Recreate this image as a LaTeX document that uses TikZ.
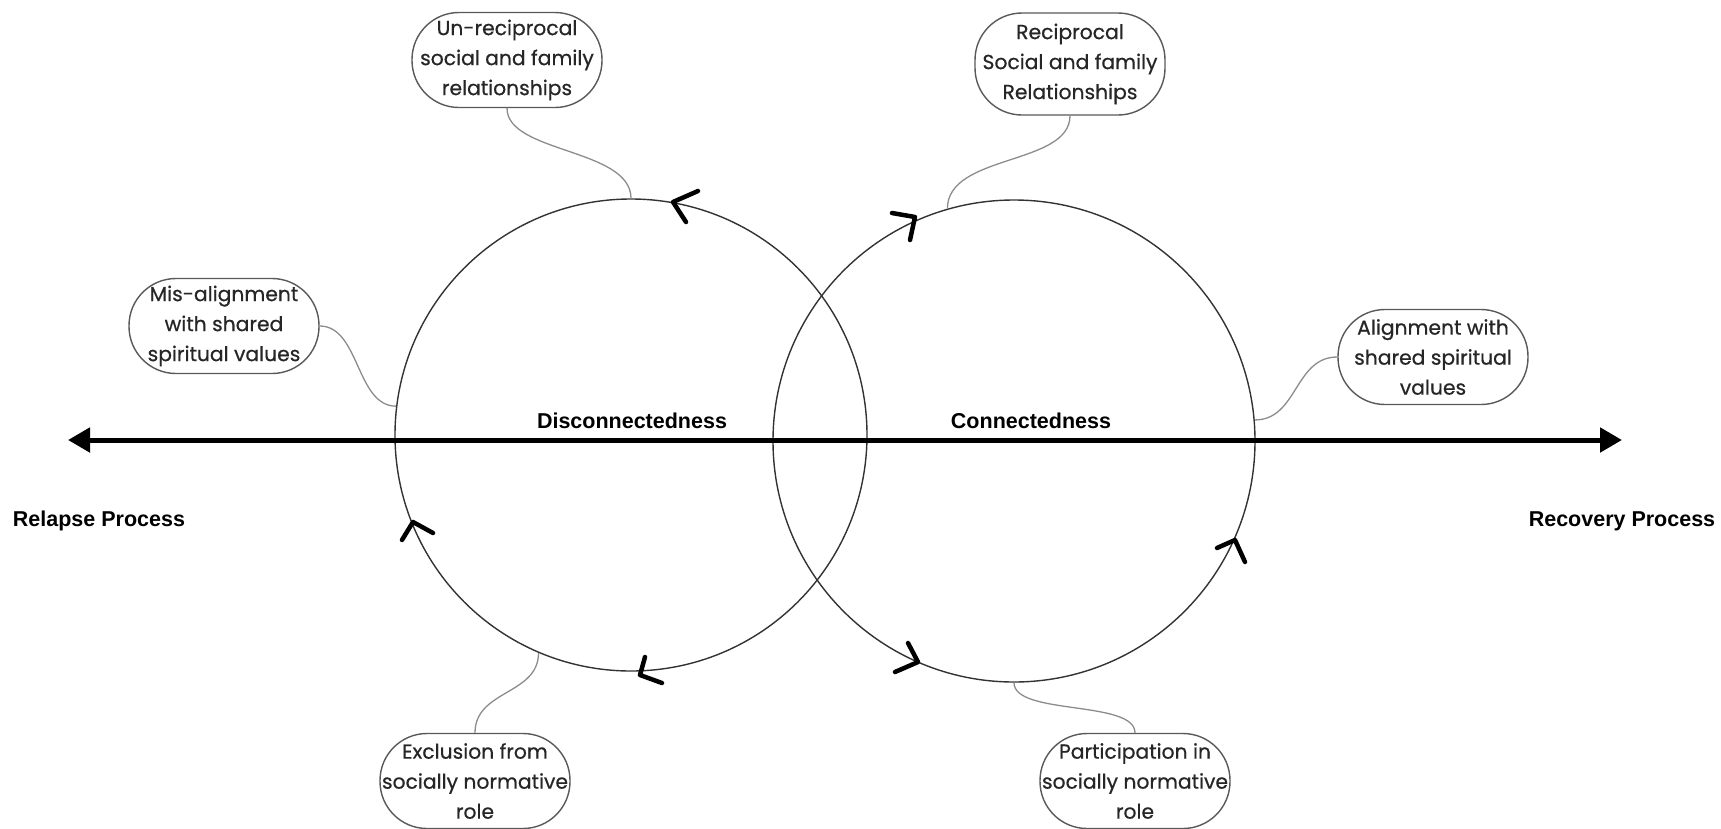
\documentclass[tikz,border=0pt]{standalone}
\usepackage{fontspec}
\setmainfont{Poppins}
\newfontfamily\bubblefont[FakeBold=0.6]{Poppins}
\newfontfamily\headfont{Liberation Sans}
\usetikzlibrary{arrows.meta,calc}
\begin{document}
\begin{tikzpicture}[x=1pt,y=-1pt,
  bubble/.style={draw=black!65, line width=1.4pt, rounded corners=47pt,
    inner sep=0pt, minimum width=190pt, minimum height=95pt, align=center,
    text=black!85, font=\bubblefont\fontsize{20.3}{30}\selectfont},
  ring/.style={circle, draw=black!80, line width=1.4pt, inner sep=0pt},
  link/.style={draw=black!45, line width=1.3pt},
  axis/.style={line width=5pt, {Triangle[length=22pt,width=24pt]}-{Triangle[length=22pt,width=24pt]}},
  chevron/.style={line width=4.5pt, line cap=round, line join=round},
  heading/.style={font=\headfont\bfseries\fontsize{21.5}{24}\selectfont}]
\useasboundingbox (0,0) rectangle (1721,828);

% the two overlapping cycles
\node[ring, minimum size=472pt] (L) at (631,435) {};
\node[ring, minimum size=482pt] (R) at (1014,441) {};

% horizontal process axis
\coordinate (axL) at (68,440);
\coordinate (axR) at (1622,440);
\draw[axis] (axL) -- (axR);

% labels
\node[heading] (relapse) at (99,521) {Relapse Process};
\node[heading] (recovery) at (1622,521) {Recovery Process};
\node[heading] (disc) at (632,421) {Disconnectedness};
\node[heading] (conn) at (1031,421) {Connectedness};

% theme bubbles
\node[bubble] (b1) at (507,60) {Un-reciprocal\\social and family\\relationships};
\node[bubble, minimum height=102pt] (b2) at (1070,64) {Reciprocal\\Social and family\\Relationships};
\node[bubble] (b3) at (224,326) {Mis-alignment\\with shared\\spiritual values};
\node[bubble] (b4) at (1433,357) {Alignment with\\shared spiritual\\values};
\node[bubble] (b5) at (475,781) {Exclusion from\\socially normative\\role};
\node[bubble] (b6) at (1135,781) {Participation in\\socially normative\\role};

% connectors from bubbles to the cycles
\draw[link] (b1.south) .. controls ($(b1.south)+(0,45)$) and ($(L.90)+(0,-50)$) .. (L.90);
\draw[link] (b2.south) .. controls ($(b2.south)+(0,50)$) and ($(R.106)+(0,-55)$) .. (R.106);
\draw[link] (b3.east) .. controls ($(b3.east)+(40,0)$) and ($(L.173)+(-40,0)$) .. (L.173);
\draw[link] (b4.west) .. controls ($(b4.west)+(-43,0)$) and ($(R.5.5)+(43,0)$) .. (R.5.5);
\draw[link] (b5.north) .. controls ($(b5.north)+(0,-43)$) and ($(L.247)+(0,42)$) .. (L.247);
\draw[link] (b6.north) .. controls ($(b6.north)+(0,-33)$) and ($(R.270)+(0,33)$) .. (R.270);

% direction marks on the cycles
\draw[chevron] (698,191) -- (673,202) -- (686,222);
\draw[chevron] (402,540) -- (413,522) -- (433,533);
\draw[chevron] (645,657) -- (640,675) -- (662,683);
\draw[chevron] (892,213) -- (915,217) -- (910,240);
\draw[chevron] (1217,548) -- (1235,540) -- (1245,562);
\draw[chevron] (908,643) -- (918,662) -- (895,672);
\end{tikzpicture}
\end{document}
